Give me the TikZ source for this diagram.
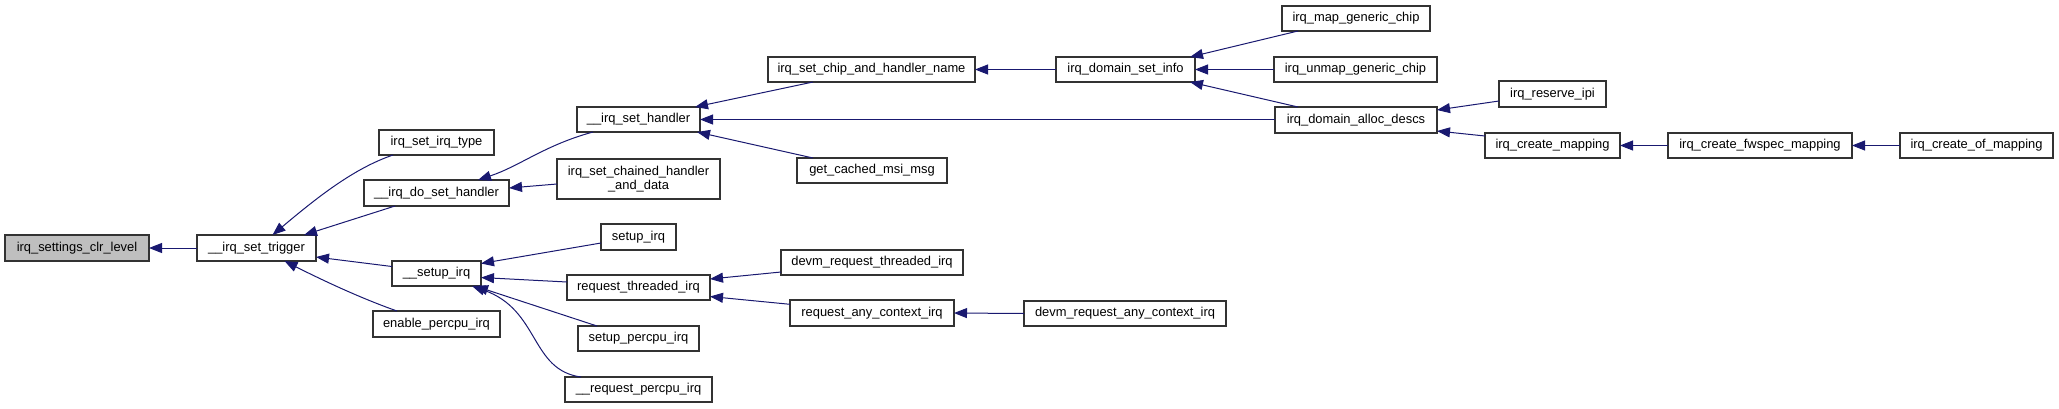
\documentclass[tikz,border=0pt]{standalone}
\usepackage{fontspec}
\setmainfont{Liberation Sans}
\usetikzlibrary{arrows.meta}
\definecolor{edgeblue}{RGB}{25,25,112}
\definecolor{rootgray}{RGB}{191,191,191}
\newcommand\mkbox[7][]{%
  \pgfmathsetmacro\bw{#4-#2}\pgfmathsetmacro\bh{#5-#3}%
  \pgfmathsetmacro\bcx{(#2+#4)/2}\pgfmathsetmacro\bcy{(#3+#5)/2}%
  \node[box,#1,minimum width=\bw pt,minimum height=\bh pt] (#6) at (\bcx,\bcy) {#7};}
\begin{document}
\begin{tikzpicture}[x=1pt,y=-1pt,
  box/.style={draw=black!80,line width=1.3pt,fill=white,rectangle,inner sep=0pt,outer sep=0pt,
    align=center,font=\fontsize{12.9}{13.7}\selectfont},
  root/.style={fill=rootgray},
  edge/.style={draw=edgeblue,line width=1pt,{Triangle[length=13pt,width=10pt]}-}]
\useasboundingbox (0,0) rectangle (2059,408);
\mkbox[root]{5}{235}{149}{261}{clr}{irq\_settings\_clr\_level}
\mkbox{197}{235}{316}{261}{trig}{\_\_irq\_set\_trigger}
\mkbox{379}{130}{494}{155}{irqtype}{irq\_set\_irq\_type}
\mkbox{364}{180}{509}{206}{doset}{\_\_irq\_do\_set\_handler}
\mkbox{392}{261}{481}{286}{setup}{\_\_setup\_irq}
\mkbox{373}{311}{500}{337}{enpercpu}{enable\_percpu\_irq}
\mkbox{577}{107}{700}{132}{sethandler}{\_\_irq\_set\_handler}
\mkbox{768}{57}{975}{82}{chipname}{irq\_set\_chip\_and\_handler\_name}
\mkbox{557}{159}{720}{199}{chained}{irq\_set\_chained\_handler\\\_and\_data}
\mkbox{797}{158}{947}{183}{cached}{get\_cached\_msi\_msg}
\mkbox{601}{224}{676}{250}{setupirq}{setup\_irq}
\mkbox{567}{275}{710}{300}{reqthr}{request\_threaded\_irq}
\mkbox{781}{250}{963}{275}{devmthr}{devm\_request\_threaded\_irq}
\mkbox{790}{300}{954}{326}{reqany}{request\_any\_context\_irq}
\mkbox{578}{326}{699}{351}{setuppercpu}{setup\_percpu\_irq}
\mkbox{565}{377}{712}{402}{reqpercpu}{\_\_request\_percpu\_irq}
\mkbox{1024}{301}{1226}{326}{devmany}{devm\_request\_any\_context\_irq}
\mkbox{1056}{57}{1195}{82}{setinfo}{irq\_domain\_set\_info}
\mkbox{1282}{6}{1430}{31}{mapgen}{irq\_map\_generic\_chip}
\mkbox{1274}{57}{1437}{82}{unmapgen}{irq\_unmap\_generic\_chip}
\mkbox{1275}{107}{1437}{133}{allocdesc}{irq\_domain\_alloc\_descs}
\mkbox{1499}{81}{1606}{107}{reserveipi}{irq\_reserve\_ipi}
\mkbox{1485}{133}{1620}{158}{createmap}{irq\_create\_mapping}
\mkbox{1668}{133}{1852}{158}{fwspec}{irq\_create\_fwspec\_mapping}
\mkbox{1900}{133}{2053}{158}{ofmap}{irq\_create\_of\_mapping}
% edges
\draw[edge] (clr.east) -- (trig.west);
\draw[edge] ([xshift=16pt]trig.north) .. controls (320,195) and (355,168) .. ([xshift=14pt]irqtype.south west);
\draw[edge] ([xshift=-12pt]trig.north east) -- ([xshift=31pt]doset.south west);
\draw[edge] ([yshift=-9pt]trig.east) -- ([yshift=7pt]setup.west);
\draw[edge] ([xshift=28pt]trig.south) .. controls (320,279) and (360,298) .. ([xshift=24pt]enpercpu.north west);
\draw[edge] ([xshift=-31pt]doset.north east) .. controls (520,166) and (545,145) .. ([xshift=16pt]sethandler.south west);
\draw[edge] ([yshift=5pt]doset.east) -- ([yshift=-5pt]chained.west);
\draw[edge] ([xshift=-5pt]sethandler.north east) -- ([xshift=45pt]chipname.south west);
\draw[edge] (sethandler.east) -- (sethandler.east -| allocdesc.west);
\draw[edge] ([xshift=-3pt]sethandler.south east) -- ([xshift=16pt]cached.north west);
\draw[edge] (chipname.east) -- (setinfo.west);
\draw[edge] ([xshift=-5pt]setinfo.north east) -- ([xshift=16pt]mapgen.south west);
\draw[edge] (setinfo.east) -- (unmapgen.west);
\draw[edge] ([xshift=-5pt]setinfo.south east) -- ([xshift=23pt]allocdesc.north west);
\draw[edge] ([yshift=10pt]allocdesc.east) -- ([yshift=-7pt]reserveipi.west);
\draw[edge] ([yshift=-11pt]allocdesc.east) -- ([yshift=9.5pt]createmap.west);
\draw[edge] (createmap.east) -- (fwspec.west);
\draw[edge] (fwspec.east) -- (ofmap.west);
\draw[edge] ([yshift=10pt]setup.east) -- ([yshift=-6pt]setupirq.west);
\draw[edge] ([yshift=-4pt]setup.east) -- ([yshift=5.5pt]reqthr.west);
\draw[edge] ([xshift=-6pt]setup.south east) -- ([xshift=19pt]setuppercpu.north west);
\draw[edge] ([xshift=-9pt]setup.south east) .. controls (540,310) and (530,370) .. ([xshift=16pt]reqpercpu.north west);
\draw[edge] ([yshift=8.5pt]reqthr.east) -- ([yshift=-9.5pt]devmthr.west);
\draw[edge] ([yshift=-9pt]reqthr.east) -- ([yshift=8.7pt]reqany.west);
\draw[edge] (reqany.east) -- (devmany.west);
\end{tikzpicture}
\end{document}
